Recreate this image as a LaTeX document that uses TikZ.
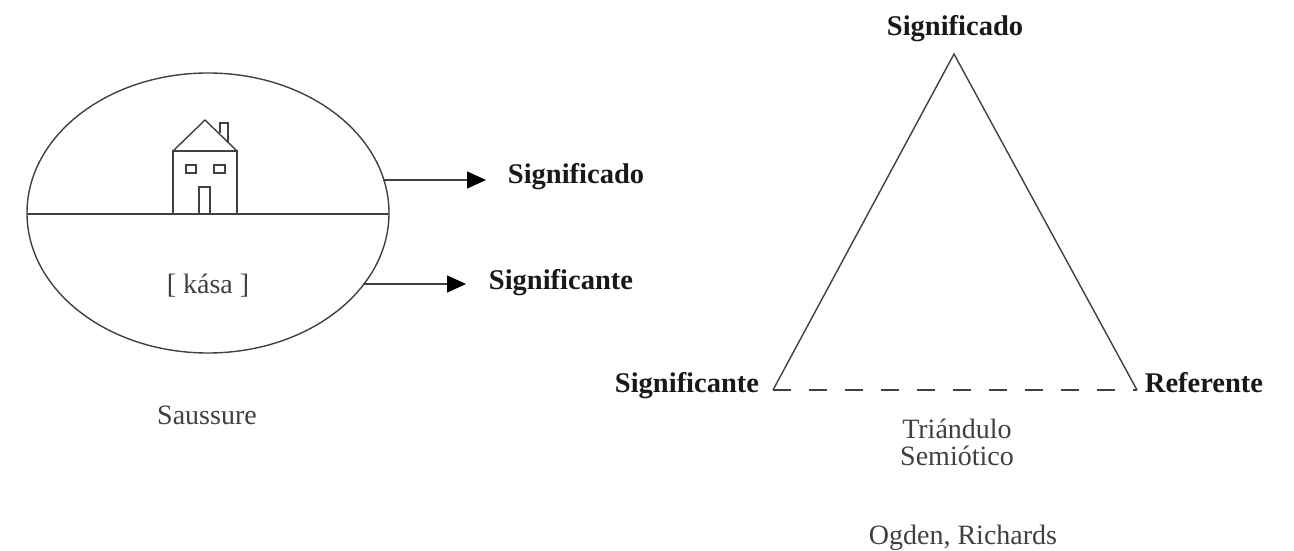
\documentclass[tikz,border=0pt]{standalone}
\usepackage{fontspec}
\setmainfont{Liberation Serif}
\usetikzlibrary{arrows.meta}
\definecolor{ink}{gray}{0.25}
\tikzset{
 lab/.style={font=\fontsize{28.5}{30}\selectfont\bfseries,inner sep=0pt,anchor=base,text=black!90},
 txt/.style={font=\fontsize{28}{27}\selectfont,inner sep=0pt,align=center,anchor=base,text=ink},
 ln/.style={draw=ink,line width=1.4pt},
 arr/.style={ln,-{Triangle[length=19pt,width=17pt,fill=black,color=black]}}
}
\begin{document}
\begin{tikzpicture}[x=1pt,y=-1pt]
\useasboundingbox (0,0) rectangle (1294,551);
\draw[ln] (208,213) ellipse [x radius=181,y radius=140];
\coordinate (hl) at (27,214); \coordinate (hr) at (389,214);
\draw[ln] (hl) -- (hr);
% house
\draw[ln] (173,214) rectangle (237,151);
\draw[ln] (173,151) -- (205,120) -- (237,151);
\draw[ln] (220,133) -- (220,123) -- (228,123) -- (228,142);
\draw[ln] (186,165) rectangle (196,173);
\draw[ln] (214,165) rectangle (225,173);
\draw[ln] (199,214) rectangle (210,187);
\node[txt] (kasa) at (208,293) {[ kása ]};
\node[txt] (sau) at (207,424) {Saussure};
\node[lab] (sdo1) at (576,183) {Significado};
\node[lab] (ste1) at (561,289) {Significante};
\coordinate (a1) at (383,180);
\coordinate (a2) at (363,284);
\draw[arr] (a1) -- (486,180);
\draw[arr] (a2) -- (466,284);
% triangle
\node[lab] (top) at (955,36) {Significado};
\node[lab] (ste2) at (687,392) {Significante};
\node[lab] (ref) at (1204,392) {Referente};
\coordinate (A) at (954,54);
\coordinate (B) at (773,390);
\coordinate (C) at (1137,390);
\draw[ln] (B) -- (A) -- (C);
\draw[ln,dash pattern=on 18pt off 18pt] (B) -- (C);
\node[txt,anchor=center] (tri) at (957,442) {Triándulo\\Semiótico};
\node[txt] (og) at (963,544) {Ogden, Richards};
\end{tikzpicture}
\end{document}
